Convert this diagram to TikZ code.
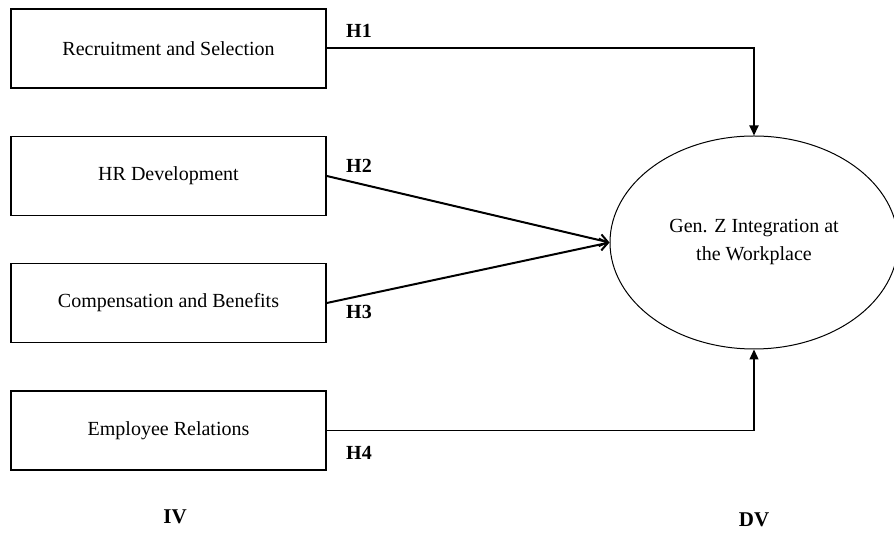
\documentclass[tikz,border=0pt]{standalone}
\usepackage{fontspec}
\setmainfont{Liberation Serif}
\usetikzlibrary{positioning,
        shapes,
        arrows.meta}

\begin{document}
\begin{tikzpicture}[x=0.5pt,y=-0.5pt,
        varbox/.style={rectangle,draw,line width=0.8pt,minimum width=157.5pt,minimum height=39.5pt,font=\fontsize{10}{12}\selectfont},
        hyp/.style={font=\bfseries\fontsize{10}{12}\selectfont},
        ivdv/.style={font=\bfseries\fontsize{10.5}{12}\selectfont}]
            \useasboundingbox (0,0) rectangle (894,533);

            \node [varbox] (rs) at (168.5,48.5) {Recruitment and Selection};
            \node [varbox] (hrd) at (168.5,176) {HR Development};
            \node [varbox] (cb) at (168.5,303) {Compensation and Benefits};
            \node [varbox] (er) at (168.5,430.5) {Employee Relations};

            \node [ellipse,draw,line width=0.5pt,minimum width=144pt,minimum height=106.5pt,inner sep=0pt,
                   align=center,font=\fontsize{10}{14}\selectfont] (gz) at (754,242.5) {Gen. Z Integration at\\the Workplace};

            \node [hyp] (h1) at (359,31) {H1};
            \node [hyp] (h2) at (359,166) {H2};
            \node [hyp] (h3) at (359,312) {H3};
            \node [hyp] (h4) at (359,453) {H4};

            \node [ivdv] (iv) at (175,517) {IV};
            \node [ivdv] (dv) at (754,520) {DV};

            % paths into the ellipse
            \draw [-{Triangle[length=5pt,width=4.5pt]}, line width=1pt] (rs.east) -| (gz.north);
            \draw [-{Straight Barb[length=4pt,width=6pt]}, line width=1pt] (hrd.east) -- (gz.west);
            \draw [-{Straight Barb[length=4pt,width=6pt]}, line width=1pt] (cb.east) -- (gz.west);
            \draw [-{Triangle[length=5pt,width=4.5pt]}, line width=0.6pt] (er.east) -| (gz.south);
        \end{tikzpicture}
\end{document}
